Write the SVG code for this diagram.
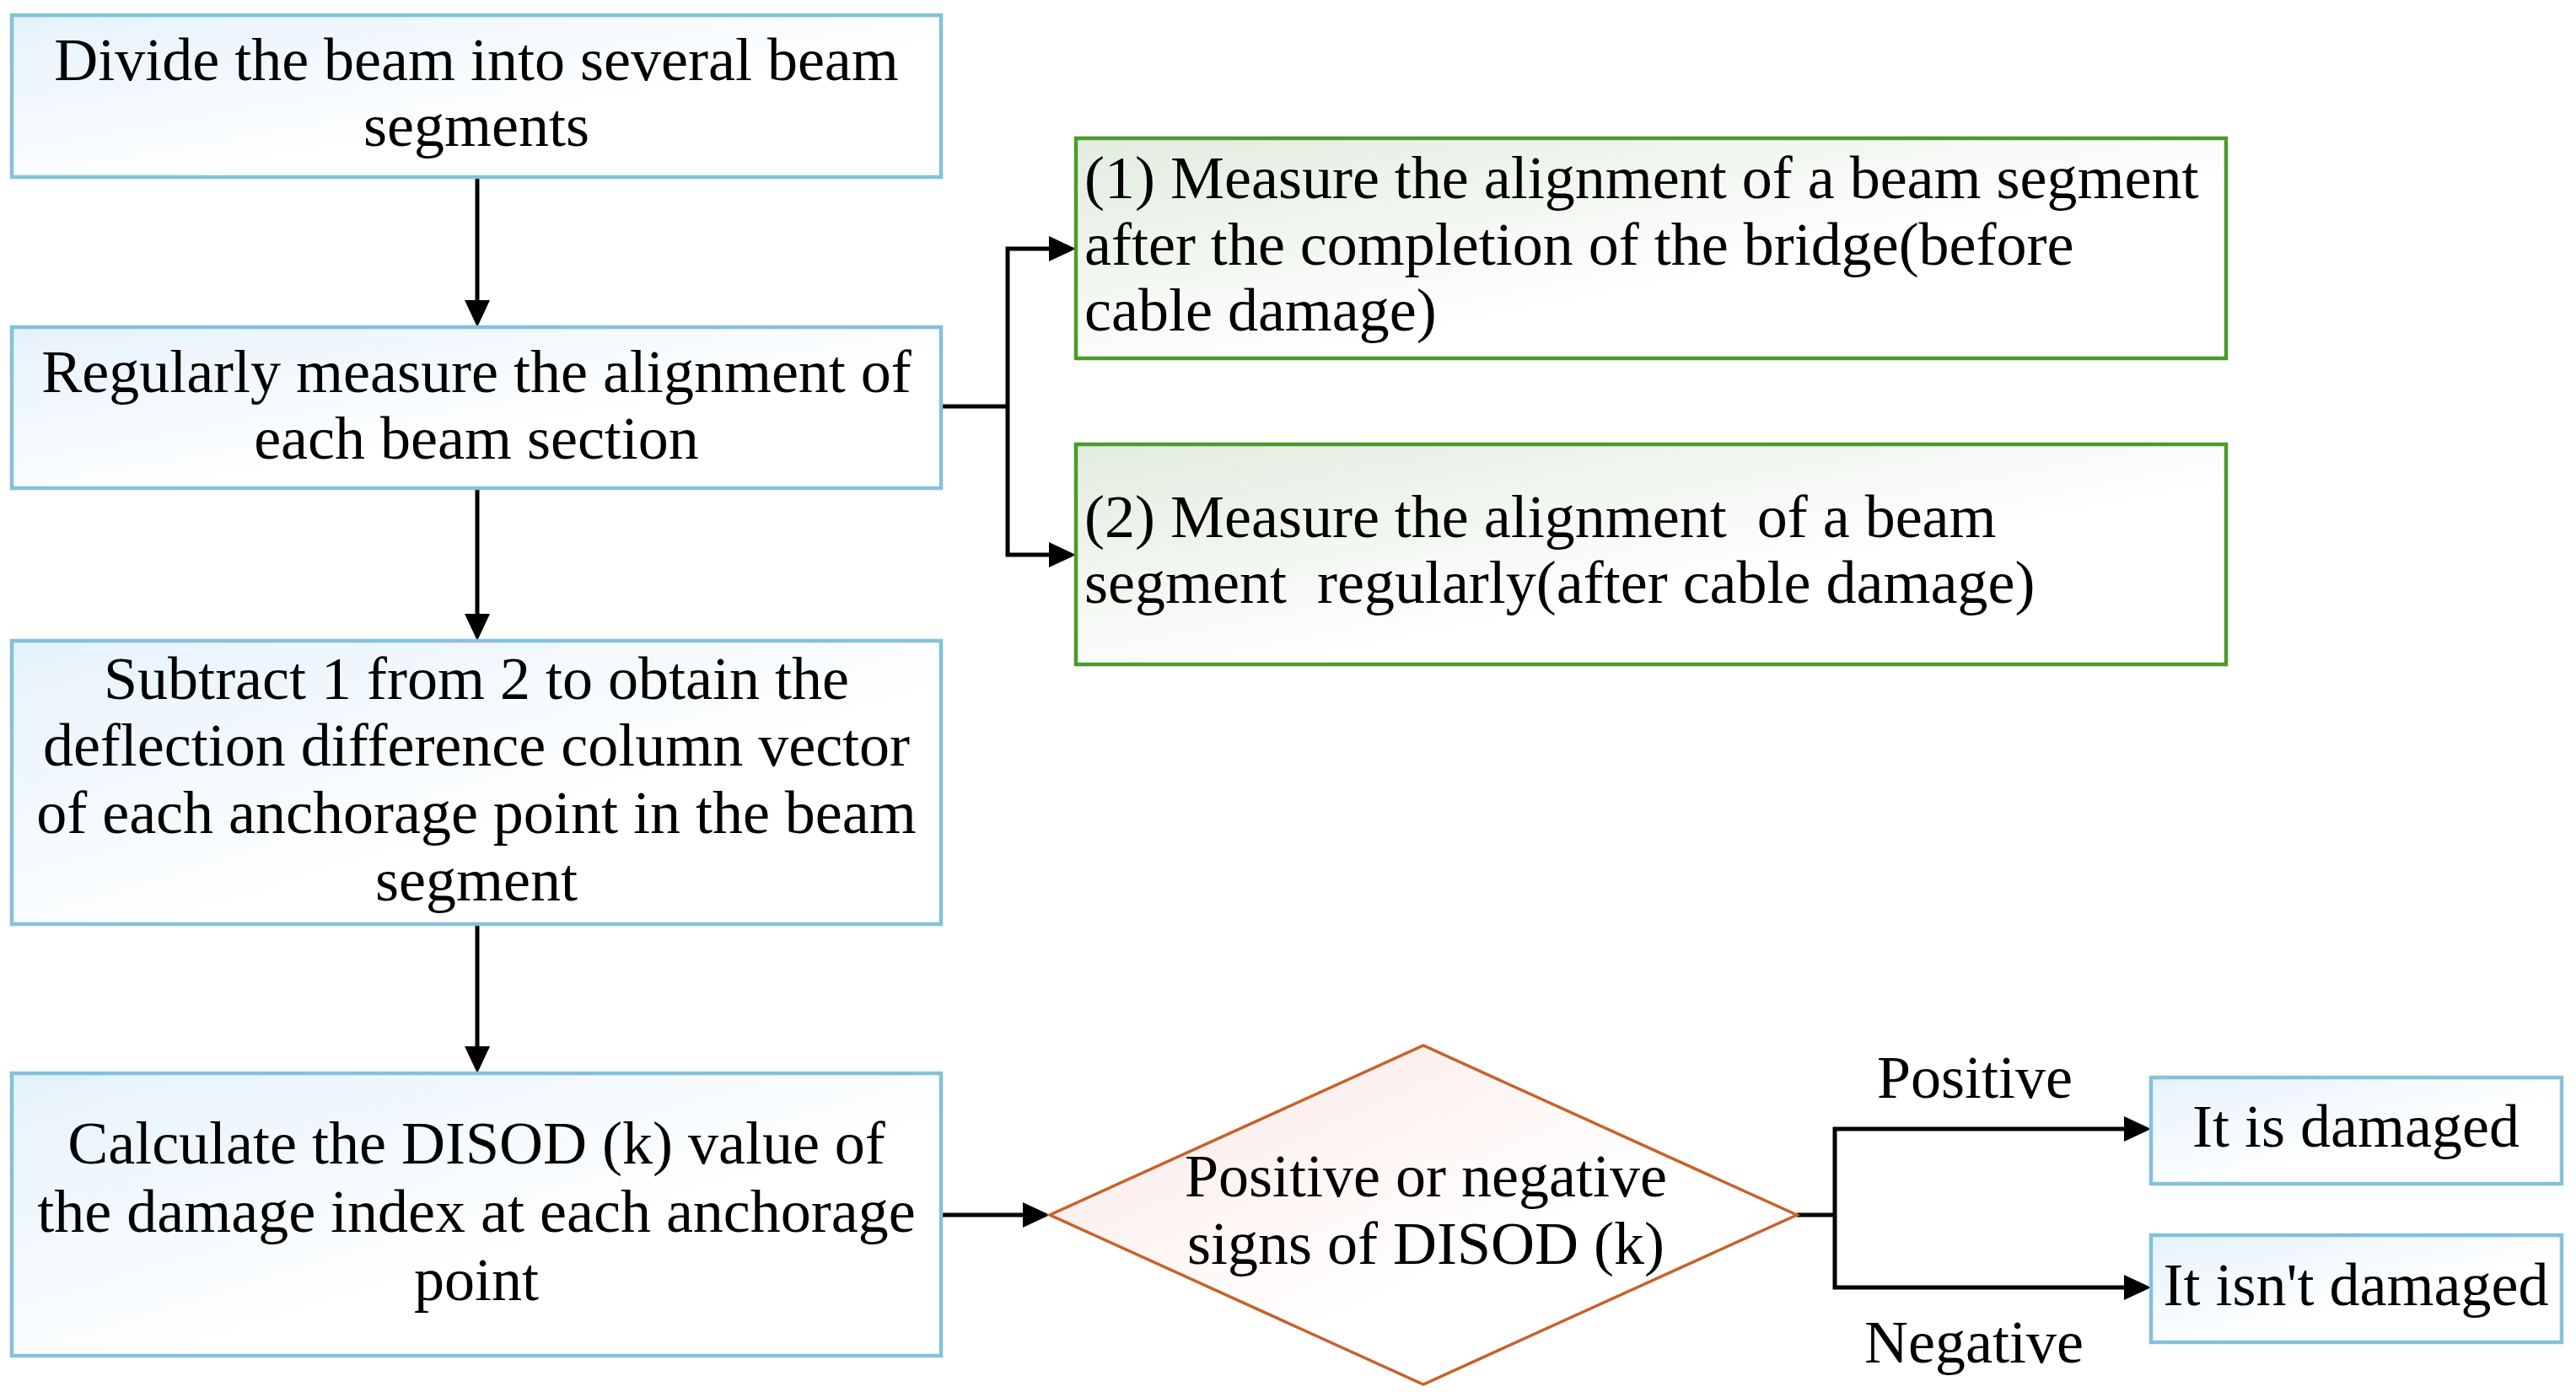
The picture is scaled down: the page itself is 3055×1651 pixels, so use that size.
<svg xmlns="http://www.w3.org/2000/svg" width="3055" height="1651" viewBox="0 0 3055 1651">
<defs>
<linearGradient id="gBlue" x1="0" y1="0" x2="1" y2="1"><stop offset="0" stop-color="#E5F2FB"/><stop offset="0.6" stop-color="#FFFFFF"/></linearGradient>
<linearGradient id="gGreen" x1="0" y1="0" x2="1" y2="1"><stop offset="0" stop-color="#E2ECDF"/><stop offset="0.6" stop-color="#FFFFFF"/></linearGradient>
<linearGradient id="gRed" x1="0" y1="0" x2="1" y2="1"><stop offset="0" stop-color="#FBE6E3"/><stop offset="0.6" stop-color="#FFFFFF"/></linearGradient>
<marker id="arr" viewBox="0 0 32 30" refX="12" refY="15" markerWidth="32" markerHeight="30" markerUnits="userSpaceOnUse" orient="auto">
<path d="M0,0 L32,15 L0,30 Z" fill="#000"/>
</marker>
</defs>
<style>
text{font-family:"Liberation Serif","Times New Roman",serif;font-size:72px;fill:#000;white-space:pre}
.c{text-anchor:middle}
.blue{fill:url(#gBlue);stroke:#84C1DB;stroke-width:4.5}
.green{fill:url(#gGreen);stroke:#4C9A2A;stroke-width:4.5}
.dia{fill:url(#gRed);stroke:#C8612B;stroke-width:3.5}
.ln{fill:none;stroke:#000;stroke-width:5}
</style>
<rect width="3055" height="1651" fill="#FFFFFF"/>

<g id="connectors">
<path class="ln" d="M566,210 V368" marker-end="url(#arr)"/>
<path class="ln" d="M566,579 V740" marker-end="url(#arr)"/>
<path class="ln" d="M566,1096 V1253" marker-end="url(#arr)"/>
<path class="ln" d="M1116,482 H1195"/>
<path class="ln" d="M1195,482 V295 H1256" marker-end="url(#arr)"/>
<path class="ln" d="M1195,482 V658 H1256" marker-end="url(#arr)"/>
<path class="ln" d="M1116,1441 H1225" marker-end="url(#arr)"/>
<path class="ln" d="M2131,1441 H2176"/>
<path class="ln" d="M2176,1441 V1339 H2531" marker-end="url(#arr)"/>
<path class="ln" d="M2176,1441 V1527 H2531" marker-end="url(#arr)"/>
</g>

<g id="node-divide">
<rect class="blue" x="14" y="18" width="1102" height="192"/>
<text class="c" x="565" y="95">Divide the beam into several beam</text>
<text class="c" x="565" y="173">segments</text>
</g>

<g id="node-measure">
<rect class="blue" x="14" y="388" width="1102" height="191"/>
<text class="c" x="565" y="465">Regularly measure the alignment of</text>
<text class="c" x="565" y="544">each beam section</text>
</g>

<g id="node-subtract">
<rect class="blue" x="14" y="760" width="1102" height="336"/>
<text class="c" x="565" y="829">Subtract 1 from 2 to obtain the</text>
<text class="c" x="565" y="908">deflection difference column vector</text>
<text class="c" x="565" y="988">of each anchorage point in the beam</text>
<text class="c" x="565" y="1068">segment</text>
</g>

<g id="node-calc">
<rect class="blue" x="14" y="1273" width="1102" height="335"/>
<text class="c" x="565" y="1380">Calculate the DISOD (k) value of</text>
<text class="c" x="565" y="1461">the damage index at each anchorage</text>
<text class="c" x="565" y="1542">point</text>
</g>

<g id="node-m1">
<rect class="green" x="1276" y="164" width="1364" height="261"/>
<text x="1286" y="235">(1) Measure the alignment of a beam segment</text>
<text x="1286" y="314">after the completion of the bridge(before</text>
<text x="1286" y="392">cable damage)</text>
</g>

<g id="node-m2">
<rect class="green" x="1276" y="527" width="1364" height="261"/>
<text x="1286" y="637">(2) Measure the alignment  of a beam</text>
<text x="1286" y="715">segment  regularly(after cable damage)</text>
</g>

<g id="node-decision">
<polygon class="dia" points="1245,1441 1688,1240 2131,1441 1688,1642"/>
<text class="c" x="1691" y="1419">Positive or negative</text>
<text class="c" x="1691" y="1499">signs of DISOD (k)</text>
</g>

<g id="label-positive"><text class="c" x="2342" y="1302">Positive</text></g>
<g id="label-negative"><text class="c" x="2341" y="1616">Negative</text></g>

<g id="node-damaged">
<rect class="blue" x="2551" y="1278" width="487" height="126"/>
<text class="c" x="2794" y="1360">It is damaged</text>
</g>

<g id="node-notdamaged">
<rect class="blue" x="2551" y="1465" width="487" height="127"/>
<text class="c" x="2794" y="1548">It isn't damaged</text>
</g>
</svg>
